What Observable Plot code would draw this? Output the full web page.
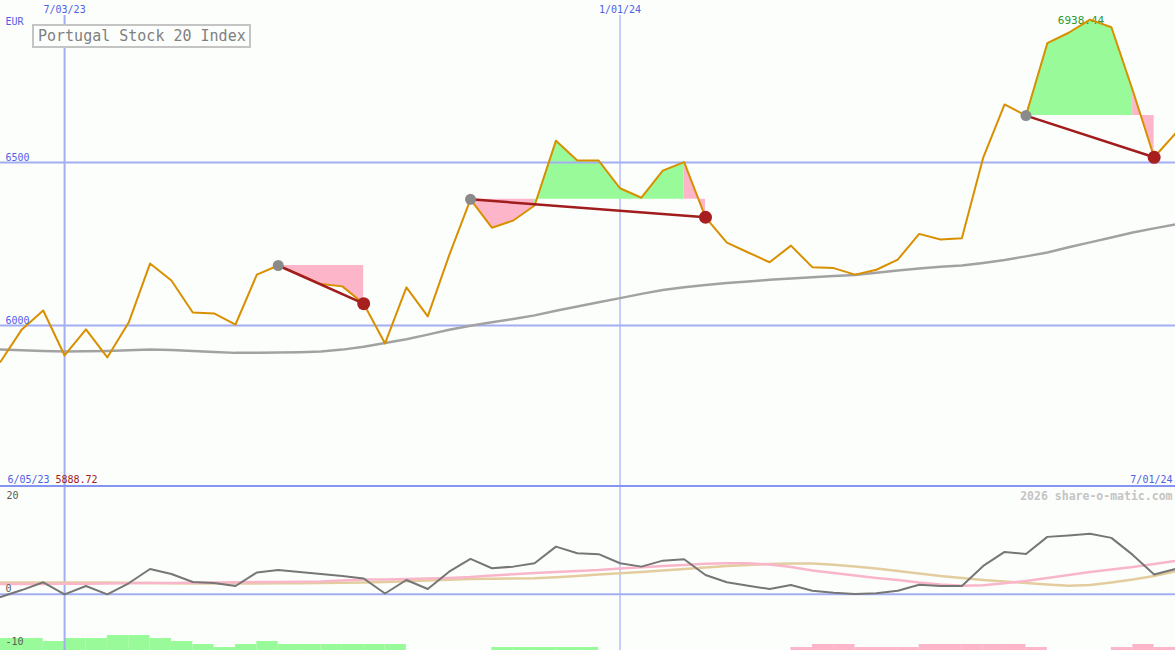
<!DOCTYPE html>
<html><head><meta charset="utf-8">
<script src="https://cdn.jsdelivr.net/npm/d3@7"></script>
<script src="https://cdn.jsdelivr.net/npm/@observablehq/plot@0.6"></script>
<style>
body{margin:0;background:#fcfefc;}
#wrap{position:relative;width:1175px;height:650px;overflow:hidden;background:#fcfefc;font-family:"DejaVu Sans Mono",monospace;}
#wrap svg{position:absolute;left:0;}
#sep{position:absolute;left:0;top:485px;width:1175px;height:2px;background:#8594f2;}
#title{position:absolute;left:32px;top:24px;width:211px;height:20px;border:2px solid #c4c4c4;background:#fcfefc;color:#808080;font-size:15px;line-height:21px;padding-left:4px;white-space:nowrap;font-family:"DejaVu Sans Mono",monospace;}
</style></head><body><div id="wrap"></div>
<script>
// ---- data ----
const dates = ["2023-06-12","2023-06-19","2023-06-26","2023-07-03","2023-07-10","2023-07-17","2023-07-24","2023-07-31",
"2023-08-07","2023-08-14","2023-08-21","2023-08-28","2023-09-04","2023-09-11","2023-09-18","2023-09-25",
"2023-10-02","2023-10-09","2023-10-16","2023-10-23","2023-10-30","2023-11-06","2023-11-13","2023-11-20","2023-11-27",
"2023-12-04","2023-12-11","2023-12-18","2023-12-25","2024-01-01","2024-01-08","2024-01-15","2024-01-22","2024-01-29",
"2024-02-05","2024-02-12","2024-02-19","2024-02-26","2024-03-04","2024-03-11","2024-03-18","2024-03-25",
"2024-04-01","2024-04-08","2024-04-15","2024-04-22","2024-04-29","2024-05-06","2024-05-13","2024-05-20","2024-05-27",
"2024-06-03","2024-06-10","2024-06-17","2024-06-24","2024-07-01"];
const close = [5888.72,5988,6046,5908,5988,5902,6009,6190,6138,6040,6037,6003,6156,6184,6156,6127,
6120,6067,5945,6117,6028,6215,6387,6300,6322,6368,6567,6506,6506,6421,6392,6475,6501,6332,
6254,6224,6194,6245,6179,6176,6156,6171,6202,6281,6264,6268,6515,6678,6644,6866,6898,6938.44,6915,6721,6516,6589];
const movingAvg = [5926,5924,5922,5920,5921,5922,5924,5926,5925,5922,5919,5916,5916,5917,5918,5920,
5926,5935,5946,5958,5972,5987,5999,6010,6020,6031,6045,6058,6071,6084,6097,6109,6117,6124,
6130,6135,6140,6144,6148,6152,6155,6162,6169,6175,6180,6184,6192,6201,6212,6224,6240,6255,6270,6285,6298,6310];
const momentum = [-0.5,0.8,2.26,0,1.57,0,2.08,4.77,3.83,2.32,2.13,1.57,4.11,4.58,4.21,3.83,
3.45,2.98,0.15,2.7,1.0,4.26,6.66,4.91,5.21,5.85,8.98,7.74,7.55,5.85,5.21,6.34,6.6,3.64,
2.26,1.62,1.0,1.75,0.68,0.3,0.06,0.19,0.68,1.81,1.57,1.57,5.34,7.98,7.6,10.81,11.09,11.38,10.62,7.42,3.74,4.77];
const fastAvg = [1.94,1.94,1.94,1.98,2.0,2.04,2.08,2.11,2.13,2.17,2.23,2.26,2.3,2.32,2.36,2.42,
2.6,2.79,2.79,2.89,2.98,3.08,3.26,3.55,3.77,4.02,4.21,4.4,4.58,4.87,5.09,5.34,5.53,5.75,
5.85,5.85,5.62,5.15,4.49,4.02,3.55,3.08,2.7,2.23,1.85,1.62,1.7,2.08,2.51,3.08,3.64,4.21,4.68,5.15,5.72,6.28];
const slowAvg = [2.23,2.23,2.23,2.23,2.23,2.23,2.19,2.13,2.08,2.04,2.04,2.04,2.04,2.08,2.09,2.13,
2.17,2.23,2.32,2.45,2.6,2.74,2.89,2.94,2.98,3.02,3.23,3.45,3.74,3.98,4.21,4.49,4.77,5.06,
5.34,5.53,5.72,5.81,5.81,5.57,5.25,4.87,4.4,3.92,3.45,3.08,2.7,2.42,2.13,1.85,1.62,1.75,2.23,2.79,3.45,4.3];
const strength = [4,4,3,4,4,5,5,4,3,2,1,2,3,2,2,2,2,2,2,0,0,0,0,1,1,1,1,1,0,0,0,0,0,0,0,0,0,
-1,-2,-2,-1,-1,-1,-2,-2,-2,-2,-2,-1,0,0,0,-1,-2,-1];
const tradeStart = [13, 22, 48];
const tradeEnd = [17, 33, 54];
const priceTicks = [6500, 6000];
const gridDates = ["2023-07-03", "2024-01-01"];
const gridLabels = ["7/03/23", "1/01/24"];
const rangeLabels = ["6/05/23", "7/01/24"];
const lowerTicks = [20, 0, -10];
const titleText = "Portugal Stock 20 Index";
const currency = "EUR";
const credit = "2026 share-o-matic.com";

// ---- build ----
const P = s => new Date(s + "T00:00:00Z");
const D = dates.map(P);
const xDomain = [D[0], D[D.length - 1]];
const rows = D.map((d, i) => ({d, close: close[i], ma: movingAvg[i], mom: momentum[i], fast: fastAvg[i], slow: slowAvg[i]}));
const G = gridDates.map(P);

// shaded areas: runs of consecutive segments with the same sign vs. the entry level
const areaRows = [];
const tradeRows = [];
tradeStart.forEach((s, t) => {
  const e = tradeEnd[t], level = close[s];
  tradeRows.push({d1: D[s], v1: close[s], d2: D[e], v2: close[e]});
  let j = s;
  while (j < e) {
    const up = close[j + 1] >= level;
    let k = j;
    while (k + 1 < e && (close[k + 2] >= level) === up) k++;
    for (let m = j; m <= k + 1; m++) areaRows.push({seg: t + "-" + j, d: D[m], level, v: close[m], up});
    j = k + 1;
  }
});
const iMax = d3.maxIndex(close), iMin = d3.minIndex(close);
const blue = "#5060e4", grid = "#a3aef2";
const font = {fontFamily: "DejaVu Sans Mono, monospace", fontSize: "10px", background: "transparent", overflow: "visible"};

const topPlot = Plot.plot({
  width: 1175, height: 487, margin: 0,
  x: {type: "utc", domain: xDomain, axis: null},
  y: {domain: [5503, 6997], axis: null},
  style: font,
  marks: [
    Plot.ruleX(G, {x: d => d, stroke: grid, strokeWidth: (d, i) => [2, 1.2][i], insetTop: 15}),
    Plot.areaY(areaRows.filter(r => r.up), {x: "d", y1: "level", y2: "v", z: "seg", fill: "#98fa98"}),
    Plot.areaY(areaRows.filter(r => !r.up), {x: "d", y1: "level", y2: "v", z: "seg", fill: "#fcb5c9"}),
    Plot.ruleY(priceTicks, {stroke: grid, strokeWidth: 2}),
    Plot.line(rows, {x: "d", y: "ma", stroke: "#a2a2a2", strokeWidth: 2.5}),
    Plot.text([iMax], {x: i => D[i], y: i => close[i], text: i => close[i].toFixed(2), dx: -9, dy: 1, fill: "#2a9a2a", fontSize: 11, lineAnchor: "middle"}),
    Plot.line(rows, {x: "d", y: "close", stroke: "#d88f00", strokeWidth: 2}),
    Plot.link(tradeRows, {x1: "d1", y1: "v1", x2: "d2", y2: "v2", stroke: "#a11c1c", strokeWidth: 2.5}),
    Plot.dot(tradeStart, {x: i => D[i], y: i => close[i], r: 5.5, fill: "#8a8a8a"}),
    Plot.dot(tradeEnd, {x: i => D[i], y: i => close[i], r: 6.5, fill: "#a81f1f"}),
    Plot.text(G, {x: d => d, text: (d, i) => gridLabels[i], frameAnchor: "top", dy: 9, lineAnchor: "middle", fill: blue}),
    Plot.text([currency], {frameAnchor: "top-left", dx: 5, dy: 21, lineAnchor: "middle", textAnchor: "start", fill: blue}),
    Plot.text(priceTicks, {y: d => d, text: d => String(d), frameAnchor: "left", dx: 5, dy: -5, lineAnchor: "middle", textAnchor: "start", fill: blue}),
    Plot.text([rangeLabels[0]], {frameAnchor: "bottom-left", dx: 7, dy: -8, lineAnchor: "middle", textAnchor: "start", fill: blue}),
    Plot.text([iMin], {frameAnchor: "bottom-left", text: i => close[i].toFixed(2), dx: 55, dy: -8, lineAnchor: "middle", textAnchor: "start", fill: "#a02020"}),
    Plot.text([rangeLabels[1]], {frameAnchor: "bottom-right", dx: -3, dy: -8, lineAnchor: "middle", textAnchor: "end", fill: blue})
  ]
});

const barRows = strength.map((k, i) => ({x1: D[i], x2: D[i + 1], h: Math.abs(k), up: k > 0})).filter(r => r.h > 0);
const barPlot = Plot.plot({
  width: 1175, height: 163, margin: 0,
  x: {type: "utc", domain: xDomain, axis: null},
  y: {domain: [0, 163 / 3], axis: null},
  style: font,
  marks: [
    Plot.rectY(barRows.filter(r => r.up), {x1: "x1", x2: "x2", y1: 0, y2: "h", fill: "#98fa98"}),
    Plot.rectY(barRows.filter(r => !r.up), {x1: "x1", x2: "x2", y1: 0, y2: "h", fill: "#fcb5c9"})
  ]
});

const lowPlot = Plot.plot({
  width: 1175, height: 163, margin: 0,
  x: {type: "utc", domain: xDomain, axis: null},
  y: {domain: [-10.57, 20.1], axis: null},
  style: font,
  marks: [
    Plot.ruleX(G, {x: d => d, stroke: grid, strokeWidth: (d, i) => [2, 1.2][i]}),
    Plot.ruleY([0], {stroke: grid, strokeWidth: 2}),
    Plot.line(rows, {x: "d", y: "slow", stroke: "#e3cd9e", strokeWidth: 2.5}),
    Plot.line(rows, {x: "d", y: "fast", stroke: "#f9b6ca", strokeWidth: 2.5}),
    Plot.line(rows, {x: "d", y: "mom", stroke: "#767676", strokeWidth: 2}),
    Plot.text(lowerTicks.filter(v => v === 20), {y: d => d, text: d => String(d), frameAnchor: "left", dx: 6, dy: 8, lineAnchor: "middle", textAnchor: "start", fill: "#5a5a5a"}),
    Plot.text(lowerTicks.filter(v => v !== 20), {y: d => d, text: d => String(d), frameAnchor: "left", dx: 5, dy: -6, lineAnchor: "middle", textAnchor: "start", fill: "#5a5a5a"}),
    Plot.text([credit], {frameAnchor: "top-right", dx: -3, dy: 9, lineAnchor: "middle", textAnchor: "end", fill: "#c4c4c4", fontWeight: "bold", fontSize: 11.5})
  ]
});

const wrap = document.getElementById("wrap");
topPlot.style.top = "0px";
barPlot.style.top = "487px";
lowPlot.style.top = "487px";
wrap.appendChild(topPlot);
wrap.appendChild(barPlot);
wrap.appendChild(lowPlot);
const sep = document.createElement("div"); sep.id = "sep"; wrap.appendChild(sep);
const title = document.createElement("div"); title.id = "title"; title.textContent = titleText; wrap.appendChild(title);
</script></body></html>
